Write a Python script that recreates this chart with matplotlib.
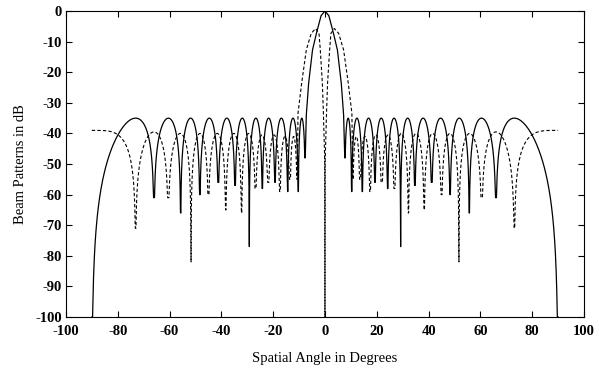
import numpy as np
import matplotlib
matplotlib.use('Agg')
import matplotlib.pyplot as plt

plt.rcParams['font.family'] = ['Liberation Serif', 'DejaVu Serif']
plt.rcParams['axes.unicode_minus'] = False

# Sum pattern (solid), right half; the left half is its mirror image
sum_main_deg = [0.0, 1.5, 3.3, 4.8, 6.3, 7.2, 7.6]
sum_main_db = [0.0, -1.5, -7.3, -12.7, -23.6, -34.0, -48.0]
sum_null_deg = [7.6, 10.3, 14.4, 19.3, 24.2, 29.2, 34.7, 41.2, 48.3, 55.7, 66.0, 90.0]
sum_null_db = [-48, -59, -59, -56, -58, -77, -57, -56, -60, -66, -61, -100]
sum_peak_db = [-35, -35, -35, -35, -35, -35, -35, -35, -35, -35, -35]

# Difference pattern (dashed), right half
dif_main_deg = [0.0, 0.05, 0.6, 1.0, 1.8, 2.3, 3.6, 5.3, 7.2, 9.0, 10.4, 10.7]
dif_main_db = [-100, -50, -33.4, -23.6, -12.7, -7.3, -5.7, -7.3, -12.7, -23.6, -33.4, -55]
dif_null_deg = [10.7, 13.5, 17.4, 21.9, 26.8, 32.2, 38.3, 45.0, 51.7, 60.5, 73.1]
dif_null_db = [-55, -55, -59, -56, -58, -66, -65, -60, -82, -61, -71]
dif_peak_db = [-41, -41, -40.5, -40.5, -40, -40, -40, -40, -40, -39.5]
dif_edge_db = -39  # level at +/-90 deg


def lobe(a, b, peak, da, db, half=False):
    # one sidelobe between two nulls, drawn in sin(angle) space
    ua, ub = np.sin(np.radians([a, b]))
    if half:
        ub = 2 - ua
    s = np.linspace(0, 1, 500)
    t = (1 - np.cos(np.pi * s)) / 2
    if half:
        t = t / 2
    u = ua + t * (ub - ua)
    y = peak + 20 * np.log10(np.maximum(np.abs(np.sin(np.pi * t)), 1e-12))
    y = np.where(t < 0.5, np.maximum(y, da), np.maximum(y, db))
    return np.degrees(np.arcsin(np.clip(u, -1, 1))), y


def pattern(main_deg, main_db, null_deg, null_db, peak_db, edge_db=None):
    xs, ys = [np.array(main_deg)], [np.array(main_db, dtype=float)]
    for i, p in enumerate(peak_db):
        x, y = lobe(null_deg[i], null_deg[i + 1], p, null_db[i], null_db[i + 1])
        xs.append(x)
        ys.append(y)
    if edge_db is not None:
        x, y = lobe(null_deg[-1], 90, edge_db, null_db[-1], edge_db, half=True)
        xs.append(x)
        ys.append(y)
    x = np.concatenate(xs)
    y = np.concatenate(ys)
    return np.concatenate([-x[::-1], x]), np.concatenate([y[::-1], y])


sx, sy = pattern(sum_main_deg, sum_main_db, sum_null_deg, sum_null_db, sum_peak_db)
dx, dy = pattern(dif_main_deg, dif_main_db, dif_null_deg, dif_null_db, dif_peak_db, dif_edge_db)

fig = plt.figure(figsize=(5.99, 3.69), dpi=100)
ax = fig.add_axes([0.110, 0.141, 0.865, 0.829])
ax.plot(sx, sy, color='black', linewidth=0.9)
ax.plot(dx, dy, color='black', linewidth=0.8, linestyle=(0, (3, 2)))

ax.set_xlim(-100, 100)
ax.set_ylim(-100, 0)
ax.set_xticks(np.arange(-100, 101, 20))
ax.set_yticks(np.arange(-100, 1, 10))
ax.tick_params(direction='in', top=True, right=True, length=4, labelsize=10.5)
ax.tick_params(axis='x', pad=6)
ax.tick_params(axis='y', pad=3)
for lab in ax.get_xticklabels() + ax.get_yticklabels():
    lab.set_fontweight('bold')
ax.set_xlabel('Spatial Angle in Degrees', fontsize=10.5, labelpad=10)
ax.set_ylabel('Beam Patterns in dB', fontsize=10.5, labelpad=6)

fig.savefig('out.png', dpi=100)
